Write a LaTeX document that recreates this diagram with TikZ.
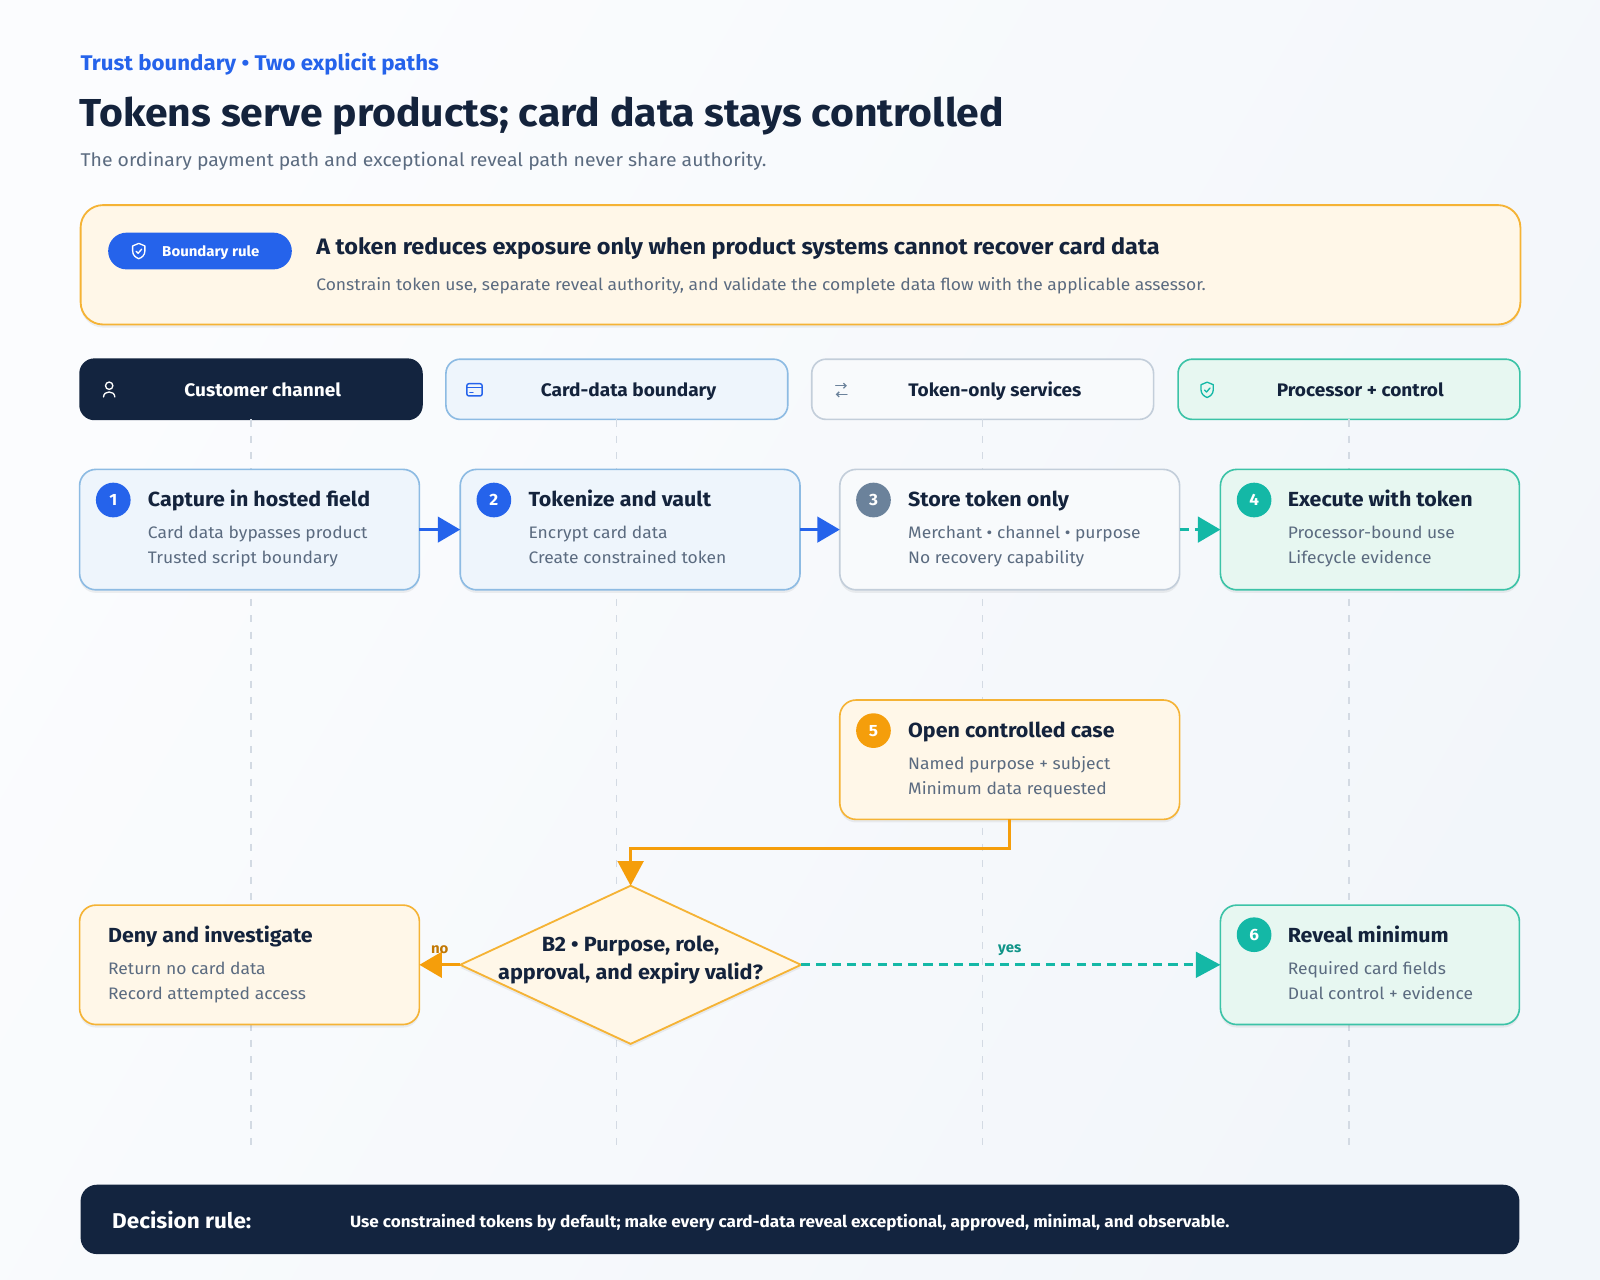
\documentclass[tikz,border=0pt]{standalone}
\usepackage{fontspec}
\setmainfont{Fira Sans}[FakeStretch=1.05]
\usetikzlibrary{arrows.meta,shapes.geometric,shadows}
\definecolor{ink}{HTML}{14233C}
\definecolor{navy}{HTML}{13243F}
\definecolor{muted}{HTML}{5B6B80}
\definecolor{blue}{HTML}{2563EB}
\definecolor{lbfill}{HTML}{EEF5FC}
\definecolor{lbline}{HTML}{8DBBE3}
\definecolor{cream}{HTML}{FFF7E8}
\definecolor{amber}{HTML}{F5B335}
\definecolor{orange}{HTML}{F59E0B}
\definecolor{nolab}{HTML}{C27803}
\definecolor{mint}{HTML}{E7F7F1}
\definecolor{tealline}{HTML}{3CC3A7}
\definecolor{teal}{HTML}{14B8A6}
\definecolor{yeslab}{HTML}{0F9488}
\definecolor{wfill}{HTML}{F8FAFC}
\definecolor{wline}{HTML}{C3CEDA}
\definecolor{slate}{HTML}{6B829B}
\definecolor{lanedash}{HTML}{D3DAE3}
\definecolor{bgA}{HTML}{FBFCFE}
\definecolor{bgB}{HTML}{F2F6FA}
\newcommand\fsz[1]{\fontsize{#1}{#1}\selectfont}
\begin{document}
\begin{tikzpicture}[x=1pt,y=-1pt,
  every node/.style={inner sep=0pt,outer sep=0pt},
  softshadow/.style={drop shadow={shadow xshift=0pt,shadow yshift=-3pt,opacity=0.06,fill=black}},
  card/.style={draw,rounded corners=16pt,line width=1.6pt,softshadow},
  bluecard/.style={card,fill=lbfill,draw=lbline},
  creamcard/.style={card,fill=cream,draw=amber},
  mintcard/.style={card,fill=mint,draw=tealline},
  whitecard/.style={card,fill=wfill,draw=wline},
  lanehdr/.style={draw,rounded corners=14pt,line width=1.6pt,minimum width=335pt,minimum height=59pt},
  hdrtext/.style={anchor=base,font=\fsz{17.8}\bfseries,text=ink},
  steptitle/.style={anchor=base west,font=\fsz{20}\bfseries,text=ink},
  stepline/.style={anchor=base west,font=\fsz{16.3},text=muted},
  numc/.style={circle,minimum size=34pt,font=\fsz{16}\bfseries,text=white},
  lane/.style={draw=lanedash,line width=1.2pt,dash pattern=on 7pt off 9pt},
  flowarrow/.style={line width=3pt,-{Triangle[length=22pt,width=25pt]}},
  shieldicon/.pic={
    \draw[line width=1.3pt,line join=round] (0,-7.5) -- (6,-5) -- (6,0) .. controls (6,4) and (3,6.5) .. (0,7.5) .. controls (-3,6.5) and (-6,4) .. (-6,0) -- (-6,-5) -- cycle;
    \draw[line width=1.3pt,line cap=round,line join=round] (-2.6,0.2) -- (-0.6,2.2) -- (2.8,-1.8);
  }
]
\useasboundingbox (0,0) rectangle (1568,1254);
\shade[left color=bgA,right color=bgB,shading angle=60] (0,0) rectangle (1568,1254);

% ---------- header ----------
\node[anchor=base west,font=\fsz{20.8}\bfseries,text=blue] (kicker) at (79,69) {Trust boundary • Two explicit paths};
\node[anchor=base west,font=\fsz{38.2}\bfseries,text=ink] (title) at (78,124) {Tokens serve products; card data stays controlled};
\node[anchor=base west,font=\fsz{18.1},text=muted] (subtitle) at (79,163) {The ordinary payment path and exceptional reveal path never share authority.};

% ---------- boundary rule ----------
\node[draw=amber,fill=cream,line width=1.8pt,rounded corners=22pt,minimum width=1411pt,minimum height=117pt,anchor=north west,softshadow] (rule) at (79,201) {};
\node[fill=blue,rounded corners=18pt,minimum width=180pt,minimum height=36pt] (pill) at (196,246) {};
\pic[draw=white,text=white] at (136,246) {shieldicon};
\node[anchor=base west,font=\fsz{14}\bfseries,text=white] (pilltext) at (159,251) {Boundary rule};
\node[anchor=base west,font=\fsz{21.9}\bfseries,text=ink] (ruletitle) at (310,249) {A token reduces exposure only when product systems cannot recover card data};
\node[anchor=base west,font=\fsz{16.3},text=muted] (rulesub) at (310,285) {Constrain token use, separate reveal authority, and validate the complete data flow with the applicable assessor.};

% ---------- lane headers ----------
\node[lanehdr,fill=navy,draw=navy] (h1) at (246,381.5) {};
\node[lanehdr,fill=lbfill,draw=lbline] (h2) at (604.5,381.5) {};
\node[lanehdr,fill=wfill,draw=wline] (h3) at (963,381.5) {};
\node[lanehdr,fill=mint,draw=tealline] (h4) at (1322,381.5) {};

\node[hdrtext,text=white] (h1t) at (257.5,389) {Customer channel};
\node[hdrtext] (h2t) at (616,389) {Card-data boundary};
\node[hdrtext] (h3t) at (975,389) {Token-only services};
\node[hdrtext] (h4t) at (1333,389) {Processor + control};

% icons
\draw[white,line width=1.3pt] (107,378) circle (3.6);
\draw[white,line width=1.3pt,line cap=round] (101.5,389) .. controls (101.5,382.5) and (112.5,382.5) .. (112.5,389);
\draw[blue,line width=1.4pt,rounded corners=2pt] (457.5,376) rectangle (472.5,388);
\draw[blue,line width=1.4pt] (457.5,380) -- (472.5,380);
\draw[blue,line width=1.4pt,line cap=round] (460.5,384.5) -- (463.5,384.5);
\draw[slate,line width=1.3pt,line cap=round,-{Straight Barb[length=2.5pt,width=5pt]}] (819,378) -- (830,378);
\draw[slate,line width=1.3pt,line cap=round,-{Straight Barb[length=2.5pt,width=5pt]}] (830,386.5) -- (819,386.5);
\pic[draw=teal] at (1183,382) {shieldicon};

% lane guide lines
\coordinate (l1) at (246,1125);
\coordinate (l2) at (604.5,1125);
\coordinate (l3) at (963,1125);
\coordinate (l4) at (1322,1125);
\draw[lane] (h1.south) -- (l1);
\draw[lane] (h2.south) -- (l2);
\draw[lane] (h3.south) -- (l3);
\draw[lane] (h4.south) -- (l4);

% ---------- step row ----------
\node[bluecard,minimum width=333pt,minimum height=118pt] (s1) at (244.5,519) {};
\node[bluecard,minimum width=333pt,minimum height=118pt] (s2) at (617.5,519) {};
\node[whitecard,minimum width=333pt,minimum height=118pt] (s3) at (989.5,519) {};
\node[mintcard,minimum width=293pt,minimum height=118pt] (s4) at (1342.5,519) {};

\node[numc,fill=blue] (n1) at (111,490) {1};
\node[steptitle] (s1t) at (145,496.5) {Capture in hosted field};
\node[stepline] (s1a) at (145,528) {Card data bypasses product};
\node[stepline] (s1b) at (145,552.5) {Trusted script boundary};

\node[numc,fill=blue] (n2) at (484,490) {2};
\node[steptitle] (s2t) at (518,496.5) {Tokenize and vault};
\node[stepline] (s2a) at (518,528) {Encrypt card data};
\node[stepline] (s2b) at (518,552.5) {Create constrained token};

\node[numc,fill=slate] (n3) at (856,490) {3};
\node[steptitle] (s3t) at (890,496.5) {Store token only};
\node[stepline] (s3a) at (890,528) {Merchant • channel • purpose};
\node[stepline] (s3b) at (890,552.5) {No recovery capability};

\node[numc,fill=teal] (n4) at (1229,490) {4};
\node[steptitle] (s4t) at (1262,496.5) {Execute with token};
\node[stepline] (s4a) at (1262,528) {Processor-bound use};
\node[stepline] (s4b) at (1262,552.5) {Lifecycle evidence};

\draw[flowarrow,blue] (s1.east) -- (s2.west);
\draw[flowarrow,blue] (s2.east) -- (s3.west);
\draw[flowarrow,teal,dash pattern=on 9pt off 6pt] (s3.east) -- (s4.west);

% ---------- exception path ----------
\node[creamcard,minimum width=333pt,minimum height=117pt] (s5) at (989.5,744.5) {};
\node[numc,fill=orange] (n5) at (856,716) {5};
\node[steptitle] (s5t) at (890,722.5) {Open controlled case};
\node[stepline] (s5a) at (890,754) {Named purpose + subject};
\node[stepline] (s5b) at (890,778.5) {Minimum data requested};

\node[diamond,draw=amber,fill=cream,line width=1.8pt,minimum width=334pt,minimum height=155pt,softshadow] (dec) at (618,945.5) {};
\node[anchor=base,font=\fsz{20.2}\bfseries,text=ink] (dect1) at (618,932.5) {B2 • Purpose, role,};
\node[anchor=base,font=\fsz{20.2}\bfseries,text=ink] (dect2) at (618,959.5) {approval, and expiry valid?};

\node[creamcard,minimum width=333pt,minimum height=117pt] (deny) at (244.5,945.5) {};
\node[steptitle] (denyt) at (106,923.5) {Deny and investigate};
\node[stepline] (denya) at (106,955) {Return no card data};
\node[stepline] (denyb) at (106,979.5) {Record attempted access};

\node[mintcard,minimum width=293pt,minimum height=117pt] (s6) at (1342.5,945.5) {};
\node[numc,fill=teal] (n6) at (1229,916) {6};
\node[steptitle] (s6t) at (1262,923.5) {Reveal minimum};
\node[stepline] (s6a) at (1262,955) {Required card fields};
\node[stepline] (s6b) at (1262,979.5) {Dual control + evidence};

\draw[orange,line width=3pt,-{Triangle[length=24pt,width=25pt]}] (s5.south) -- ++(0,28.5) -| (dec.north);
\draw[orange,line width=3pt,-{Triangle[length=22pt,width=25pt]}] (dec.west) -- (deny.east);
\draw[teal,line width=3pt,dash pattern=on 9pt off 6pt,-{Triangle[length=24pt,width=25pt]}] (dec.east) -- (s6.west);
\node[font=\fsz{14}\bfseries,text=nolab] (nolabel) at (431,931) {no};
\node[font=\fsz{14}\bfseries,text=yeslab] (yeslabel) at (989.5,931) {yes};

% ---------- footer ----------
\node[fill=navy,rounded corners=16pt,minimum width=1410pt,minimum height=68pt,anchor=north west] (footer) at (79,1161) {};
\node[anchor=base west,font=\fsz{21}\bfseries,text=white] (footk) at (110,1204) {Decision rule:};
\node[anchor=base west,font=\fsz{16}\bfseries,text=white] (foott) at (343,1202.5) {Use constrained tokens by default; make every card-data reveal exceptional, approved, minimal, and observable.};
\end{tikzpicture}
\end{document}
